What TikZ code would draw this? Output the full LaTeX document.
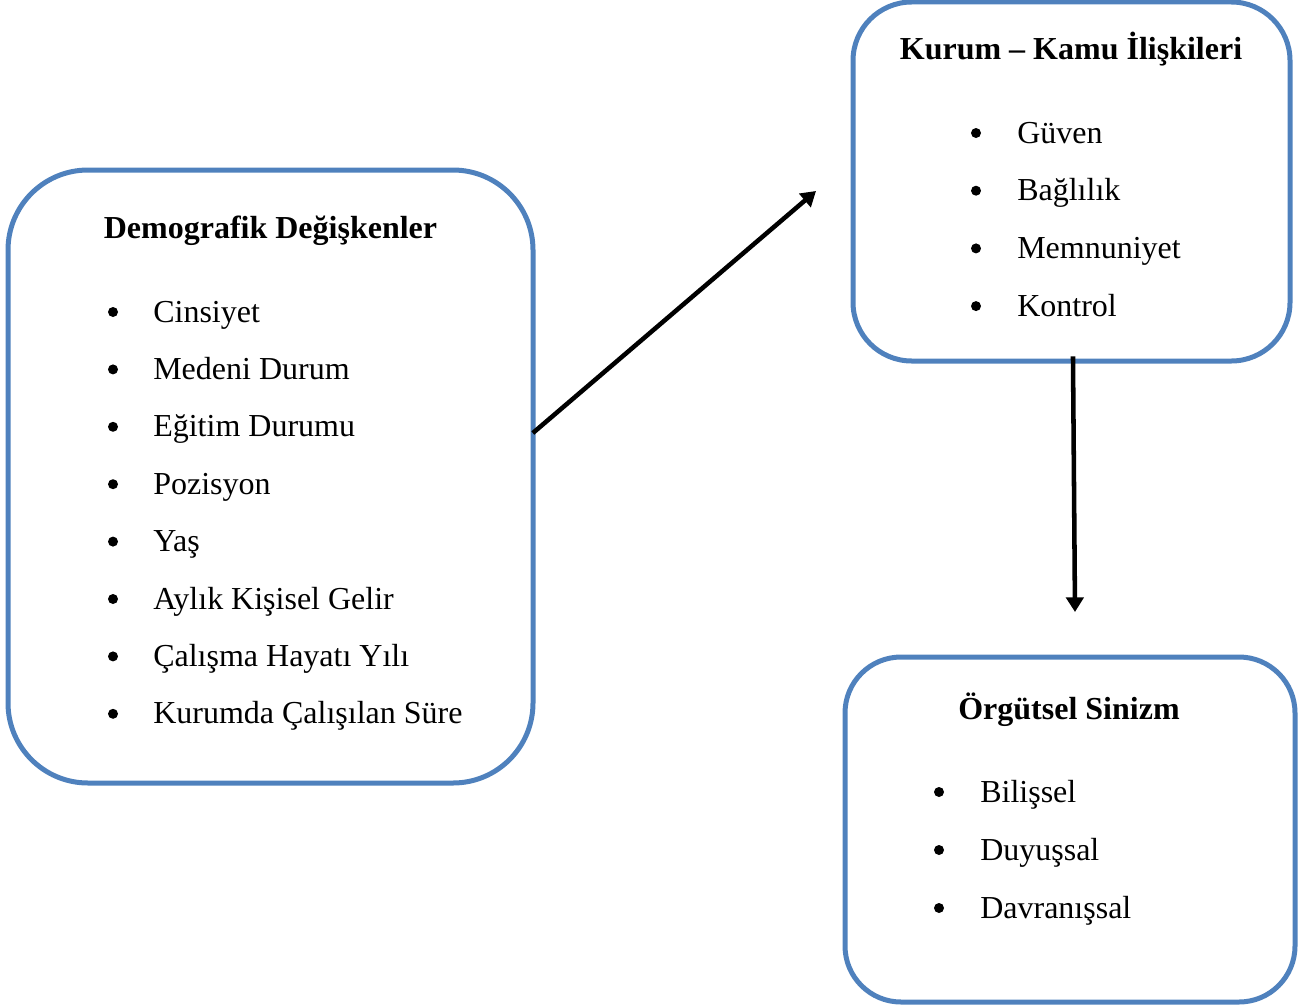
\documentclass[tikz,border=0pt]{standalone}
\usepackage{fontspec}
\setmainfont{Liberation Serif}
\usetikzlibrary{arrows.meta,positioning}
\definecolor{boxblue}{HTML}{4F81BD}

\tikzset{
  panel/.style={draw=boxblue, line width=3.75pt, rounded corners=#1},
  heading/.style={font=\fontsize{24}{28}\selectfont\bfseries, anchor=base, inner sep=0pt},
  entry/.style={font=\fontsize{24}{28}\selectfont, anchor=base west, inner sep=0pt},
  dot/.style={circle, fill=black, inner sep=0pt, minimum size=7.5pt},
  link/.style={line width=3.4pt, -{Triangle[length=11pt, width=13pt]}}
}

\begin{document}
\begin{tikzpicture}[x=0.75pt, y=-0.75pt]
        \useasboundingbox (0,0) rectangle (1312,1006);
        % boxes
        \node[panel=60pt, minimum width=393.75pt, minimum height=459.75pt] (demo) at (270.5,476.5) {};
        \node[panel=44pt, minimum width=327.75pt, minimum height=269.25pt] (kurum) at (1071.5,181.5) {};
        \node[panel=42pt, minimum width=337.5pt, minimum height=258.75pt] (sinizm) at (1070,829.5) {};
        % headings
        \node[heading] (demo-title) at (270.5,238) {Demografik Değişkenler};
        \node[heading] (kurum-title) at (1071,60) {Kurum – Kamu İlişkileri};
        \node[heading] (sinizm-title) at (1069,719) {Örgütsel Sinizm};
        % bullet lists
        \foreach \txt [count=\i] in {Cinsiyet, Medeni Durum, Eğitim Durumu, Pozisyon, Yaş,
                Aylık Kişisel Gelir, Çalışma Hayatı Yılı, Kurumda Çalışılan Süre} {
                \node[dot] at (113, {312+57.4*(\i-1)}) {};
                \node[entry] (demo-\i) at (153, {322+57.4*(\i-1)}) {\txt};
        }
        \foreach \txt [count=\i] in {Güven, Bağlılık, Memnuniyet, Kontrol} {
                \node[dot] at (976, {133+57.7*(\i-1)}) {};
                \node[entry] (kurum-\i) at (1017, {143+57.7*(\i-1)}) {\txt};
        }
        \foreach \txt [count=\i] in {Bilişsel, Duyuşsal, Davranışsal} {
                \node[dot] at (939, {792+58*(\i-1)}) {};
                \node[entry] (sinizm-\i) at (980, {802+58*(\i-1)}) {\txt};
        }
        % arrows
        \coordinate (kurum-in) at (816,191);
        \coordinate (sinizm-in) at (1075,612);
        \draw[link] ([xshift=-2pt, yshift=32.6pt]demo.east) -- (kurum-in);
        \draw[link] ([xshift=1.1pt, yshift=5.3pt]kurum.south) -- (sinizm-in);
\end{tikzpicture}
\end{document}
